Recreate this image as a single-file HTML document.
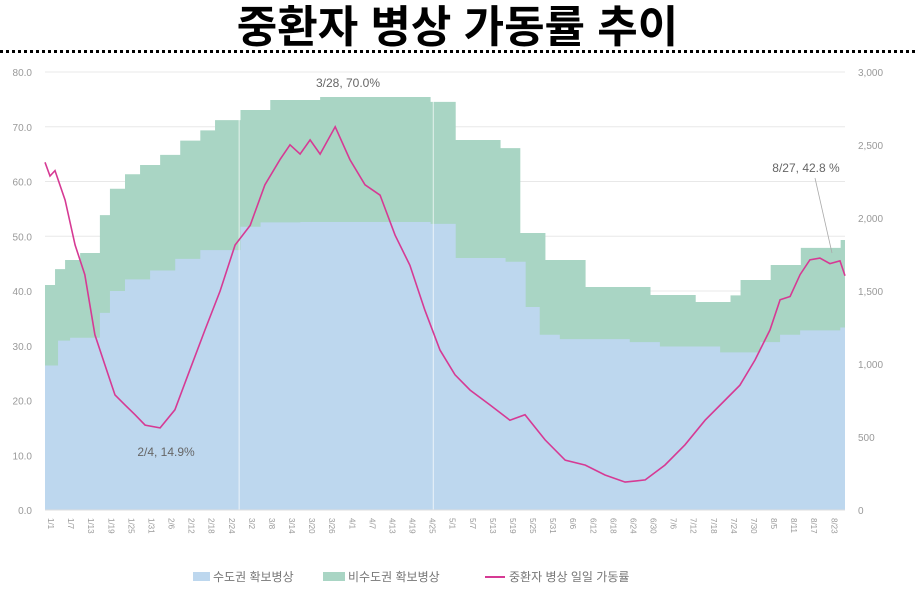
<!DOCTYPE html>
<html><head><meta charset="utf-8">
<style>
body{margin:0;width:915px;height:597px;background:#fff;overflow:hidden;font-family:"Liberation Sans","Noto Sans CJK KR",sans-serif}
#title{position:absolute;left:0;top:0;width:915px;text-align:center;font-size:44px;font-weight:bold;line-height:56px;color:#000;font-family:"Liberation Sans","Noto Sans CJK KR",sans-serif}
#dots{position:absolute;left:0;top:50px;width:915px;border-top:3px dotted #000}
svg{position:absolute;left:0;top:0}
</style></head><body>
<div id="title">중환자 병상 가동률 추이</div>
<div id="dots"></div>
<svg id="chart" width="915" height="597"></svg>
<script>
const leftTicks=[0,10,20,30,40,50,60,70,80];
const rightTicks=[0,500,1000,1500,2000,2500,3000];
const rightLabels=["0","500","1,000","1,500","2,000","2,500","3,000"];
const blueDays=[0,3.9,7.5,16.4,19.4,23.9,31.4,38.9,46.4,58.4,64.4,76.3,115.2,122.7,137.6,143.6,147.8,153.8,174.7,183.7,201.7,213.7,219.6,225.6,237.6,239];
const blueVals=[990,1160,1180,1350,1500,1580,1640,1720,1780,1940,1970,1973,1960,1726,1700,1390,1200,1170,1150,1120,1080,1150,1200,1230,1250,1250];
const greenDays=[0,3,6,10.5,16.4,19.4,23.9,28.4,34.4,40.4,46.4,50.8,58.4,67.3,82.2,115.2,122.7,136.1,142.0,149.5,161.5,180.9,194.4,204.8,207.8,216.8,225.8,237.7,239];
const greenVals=[1541,1650,1712,1760,2020,2200,2300,2363,2432,2530,2600,2670,2740,2808,2829,2795,2534,2479,1897,1712,1527,1473,1425,1470,1575,1678,1795,1849,1849];
const lineDays=[0,1.5,3.0,6.0,9.0,11.9,14.9,17.9,20.9,23.9,26.9,29.9,34.4,38.8,43.3,47.8,52.3,56.8,61.3,65.7,70.2,73.2,76.2,79.2,82.2,86.7,91.1,95.6,100.1,104.6,109.0,113.5,118.0,122.5,127.0,132.9,138.9,143.4,149.4,155.4,161.4,167.3,173.3,179.3,185.2,191.2,197.2,203.2,207.6,212.1,216.6,219.6,222.6,225.6,228.5,231.5,234.5,237.5,239];
const lineVals=[63.5,61,62,56.6,48.4,43,32,26.5,21,19.2,17.4,15.5,15,18.3,25.6,32.9,40,48.4,52,59.4,64,66.7,65,67.6,65,70,64,59.4,57.5,50.2,44.7,36.5,29.2,24.7,21.9,19.2,16.4,17.4,12.8,9.1,8.2,6.4,5.1,5.5,8.2,11.9,16.4,20.1,22.8,27.4,32.9,38.4,39,43,45.7,46,45,45.5,42.8];
const xLabels=[];
const md=[31,28,31,30,31,30,31,31];
for(let d=0;d<=234;d+=6){let m=0,r=d;while(r>=md[m]){r-=md[m];m++;}xLabels.push([d,(m+1)+"/"+(r+1)]);}

const X0=45,X1=845,Y0=510,Y1=72,DMAX=239;
const sx=d=>X0+(X1-X0)*d/DMAX;
const sy=v=>Y0-(Y0-Y1)*v/80;
const sr=v=>Y0-(Y0-Y1)*v/3000;
const NS="http://www.w3.org/2000/svg";
const svg=document.getElementById('chart');
function mk(t,a,p){const e=document.createElementNS(NS,t);for(const k in a)e.setAttribute(k,a[k]);(p||svg).appendChild(e);return e;}

leftTicks.forEach(t=>{
 const g=mk('line',{x1:X0,x2:X1,y1:sy(t),y2:sy(t),stroke:'#e8e8e8','stroke-width':1});
 
 
 const l=mk('text',{x:32,y:sy(t)+4,'text-anchor':'end','font-size':10,fill:'#999'});
 l.textContent=t.toFixed(1);
 
 
});
rightTicks.forEach((t,i)=>{
 const l=mk('text',{x:858,y:sr(t)+4,'font-size':10,fill:'#999'});
 l.textContent=rightLabels[i];
 
 
});
function stepPath(days,vals){
 let p='M'+sx(days[0])+','+sr(0)+' L'+sx(days[0])+','+sr(vals[0]);
 for(let i=1;i<days.length;i++){p+=' L'+sx(days[i])+','+sr(vals[i-1])+' L'+sx(days[i])+','+sr(vals[i]);}
 return p+' L'+sx(days[days.length-1])+','+sr(0)+'Z';
}
const ga=mk('path',{d:stepPath(greenDays,greenVals),fill:'#a9d5c4'});


const ba=mk('path',{d:stepPath(blueDays,blueVals),fill:'#bdd7ee'});


[58,116].forEach(d=>{const v=mk('line',{x1:sx(d),x2:sx(d),y1:sr(0),y2:sr(2830),stroke:'#fff','stroke-width':1,opacity:0.7});
 
 });
let lp='';lineDays.forEach((d,i)=>{lp+=(i?' L':'M')+sx(d).toFixed(1)+','+sy(lineVals[i]).toFixed(1);});
const ln=mk('path',{d:lp,fill:'none',stroke:'#d63a94','stroke-width':1.6});


mk('line',{x1:X0,x2:X1,y1:Y0,y2:Y0,stroke:'#ddd'});
xLabels.forEach(([d,t])=>{
 const l=mk('text',{x:0,y:0,'font-size':8,fill:'#999',transform:`translate(${sx(d)+3},${518}) rotate(90)`});
 l.textContent=t;
 
 
});
function ann(x,y,t,n){const l=mk('text',{x:x,y:y,'font-size':12,fill:'#666','text-anchor':'middle'});l.textContent=t;
 
 }
ann(348,87,'3/28, 70.0%','peak-annotation');
ann(166,456,'2/4, 14.9%','low-annotation');
ann(806,172,'8/27, 42.8 %','latest-annotation');
mk('line',{x1:815,y1:178,x2:832,y2:253,stroke:'#aaa','stroke-width':0.8});
const lg=mk('g',{});


mk('rect',{x:193,y:572,width:17,height:9,fill:'#bdd7ee'},lg);
let t1=mk('text',{x:213,y:581,'font-size':12,fill:'#777'},lg);t1.textContent='수도권 확보병상';
mk('rect',{x:323,y:572,width:22,height:9,fill:'#a9d5c4'},lg);
let t2=mk('text',{x:348,y:581,'font-size':12,fill:'#777'},lg);t2.textContent='비수도권 확보병상';
mk('line',{x1:485,x2:505,y1:577,y2:577,stroke:'#d63a94','stroke-width':2},lg);
let t3=mk('text',{x:509,y:581,'font-size':12,fill:'#777'},lg);t3.textContent='중환자 병상 일일 가동률';
</script>
</body></html>
